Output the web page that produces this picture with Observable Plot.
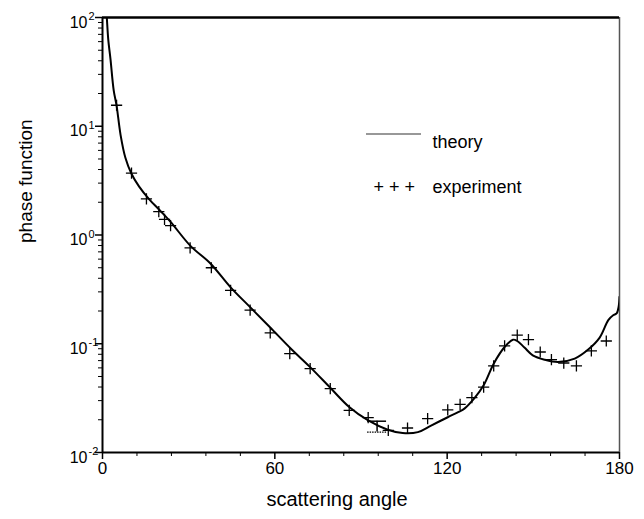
<!DOCTYPE html>
<html>
<head>
<meta charset="utf-8">
<script src="https://cdn.jsdelivr.net/npm/d3@7"></script>
<script src="https://cdn.jsdelivr.net/npm/@observablehq/plot@0.6"></script>
<style>
  html, body { margin: 0; padding: 0; background: #fff; }
  #chart svg { display: block; }
</style>
</head>
<body>
<div id="chart"></div>
<script>
// ---- data ----
const theoryAngle = [1.2, 1.5, 2.0, 2.8, 3.9, 4.9, 6.3, 8.0, 10.0, 12.7, 16.2, 20.0, 23.7, 30.7, 37.5, 44.6, 51.4, 58.4, 65.6, 72.3, 79.3, 85.9, 92.5, 99.3, 104.5, 109.8, 114.4, 120.2, 124.0, 126.0, 129.5, 132.7, 136.2, 140.0, 142.9, 144.4, 146.9, 149.8, 153.9, 158.6, 164.4, 169.1, 173.1, 176.1, 177.8, 179.0, 179.7, 180.0];
const theoryValue = [130, 100, 63, 41, 21.4, 15.5, 8.3, 5.1, 3.7, 2.8, 2.14, 1.68, 1.32, 0.79, 0.55, 0.33, 0.217, 0.141, 0.090, 0.061, 0.0394, 0.0262, 0.0197, 0.0162, 0.0151, 0.0154, 0.0177, 0.0211, 0.0236, 0.0253, 0.0316, 0.0415, 0.0656, 0.0933, 0.109, 0.106, 0.0923, 0.0783, 0.0714, 0.068, 0.0731, 0.0885, 0.114, 0.165, 0.183, 0.19, 0.219, 0.27];

const expAngle = [4.9, 10.1, 15.3, 19.6, 21.6, 23.7, 30.5, 37.9, 44.6, 51.4, 58.4, 65.2, 72.3, 79.3, 85.9, 92.5, 99.5, 106.2, 113.2, 120.2, 124.5, 128.6, 132.7, 136.2, 140.0, 144.4, 148.3, 152.4, 156.3, 160.6, 165.0, 170.2, 175.4];
const expValue = [15.6, 3.7, 2.15, 1.64, 1.39, 1.22, 0.76, 0.50, 0.31, 0.204, 0.126, 0.081, 0.059, 0.0386, 0.0244, 0.0209, 0.016, 0.0168, 0.0205, 0.0247, 0.0277, 0.0319, 0.040, 0.0625, 0.0955, 0.12, 0.109, 0.084, 0.0715, 0.0665, 0.0625, 0.086, 0.106];

const errAngle = [95.6];
const errLow = [0.0154];
const errHigh = [0.0194];

const xTicks = [0, 60, 120, 180];
const xTickLabels = ["0", "60", "120", "180"];
const xMinorTicks = [12, 24, 36, 48, 72, 84, 96, 108, 132, 144, 156, 168];
const yTicks = [0.01, 0.1, 1, 10, 100];
const yTickBase = "10";
const yTickExponents = ["-2", "-1", "0", "1", "2"];
const yMinorMultipliers = [2, 3, 4, 5, 6, 7, 8, 9];
const yMinorTicks = yTicks.slice(0, -1).flatMap(t => yMinorMultipliers.map(m => t * m));

const xTitle = "scattering angle";
const yTitle = "phase function";
const legendLabels = ["theory", "experiment"];
const legendSymbol = "+ + +";

// ---- tables for the library ----
const theory = theoryAngle.map((a, i) => ({angle: a, value: theoryValue[i]}));
const experiment = expAngle.map((a, i) => ({angle: a, value: expValue[i]}));
const errors = errAngle.map((a, i) => ({angle: a, low: errLow[i], high: errHigh[i]}));

const font = "'Liberation Sans', Arial, Helvetica, sans-serif";

const plot = Plot.plot({
  width: 644,
  height: 519,
  marginLeft: 102,
  marginRight: 25,
  marginTop: 17,
  marginBottom: 67,
  style: {fontFamily: font, fontSize: "16px", color: "#000", background: "#fff", overflow: "visible"},
  x: {domain: [0, 180], axis: null},
  y: {type: "log", domain: [0.01, 100], axis: null},
  marks: [
    // ticks
    Plot.axisY({ticks: yMinorTicks, tickSize: 4, tickFormat: () => "", label: null, strokeWidth: 1}),
    Plot.axisY({ticks: yTicks, tickSize: 7, tickFormat: () => "", label: null, strokeWidth: 1.5}),
    Plot.axisX({ticks: xMinorTicks, tickSize: 4, tickFormat: () => "", label: null, strokeWidth: 1}),
    Plot.axisX({ticks: xTicks, tickSize: 7, tickFormat: () => "", label: null, strokeWidth: 1.5}),
    // frame
    Plot.ruleX([180], {stroke: "#555", strokeWidth: 1.5}),
    Plot.ruleY([100], {stroke: "#000", strokeWidth: 2.5}),
    Plot.ruleX([0], {stroke: "#000", strokeWidth: 2}),
    Plot.ruleY([0.01], {stroke: "#000", strokeWidth: 2}),
    // tick labels
    Plot.text(xTicks, {x: d => d, frameAnchor: "bottom", dy: 21, text: (d, i) => xTickLabels[i], fontSize: 17}),
    Plot.text(yTicks, {y: d => d, frameAnchor: "left", dx: -15, dy: 5, textAnchor: "end", text: () => yTickBase, fontSize: 16}),
    Plot.text(yTicks, {y: d => d, frameAnchor: "left", dx: -14, dy: -1, textAnchor: "start", text: (d, i) => yTickExponents[i], fontSize: 11}),
    // axis titles
    Plot.text([xTitle], {frameAnchor: "bottom", dx: -24, dy: 53, fontSize: 20}),
    Plot.text([yTitle], {frameAnchor: "left", dx: -77, dy: 8, rotate: -90, fontSize: 19}),
    // theory curve
    Plot.line(theory, {x: "angle", y: "value", stroke: "#000", strokeWidth: 2, curve: "catmull-rom", clip: true}),
    // experiment
    Plot.dot(experiment, {x: "angle", y: "value", symbol: "plus", r: 3.7, stroke: "#000", strokeWidth: 1.3}),
    // error bar
    Plot.ruleX(errors, {x: "angle", y1: "low", y2: "high", stroke: "#000", strokeWidth: 1.5}),
    Plot.ruleY(errors, {y: "high", x1: d => d.angle - 3.3, x2: d => d.angle + 3.3, stroke: "#000", strokeWidth: 1.5}),
    Plot.ruleY(errors, {y: "low", x1: d => d.angle - 3.3, x2: d => d.angle + 3.3, stroke: "#000", strokeWidth: 1.2, strokeDasharray: "1.5,1"}),
    // legend
    Plot.text([legendLabels[0]], {frameAnchor: "top-left", dx: 330, dy: 118, textAnchor: "start", fontSize: 18}),
    Plot.text([legendSymbol], {frameAnchor: "top-left", dx: 271, dy: 163, textAnchor: "start", fontSize: 18}),
    Plot.text([legendLabels[1]], {frameAnchor: "top-left", dx: 330, dy: 163, textAnchor: "start", fontSize: 18})
  ]
});

// legend line sample
d3.select(plot).append("line")
  .attr("x1", 366).attr("x2", 421)
  .attr("y1", 134).attr("y2", 134)
  .attr("stroke", "#333").attr("stroke-width", 1.2);

document.getElementById("chart").appendChild(plot);
</script>
</body>
</html>
